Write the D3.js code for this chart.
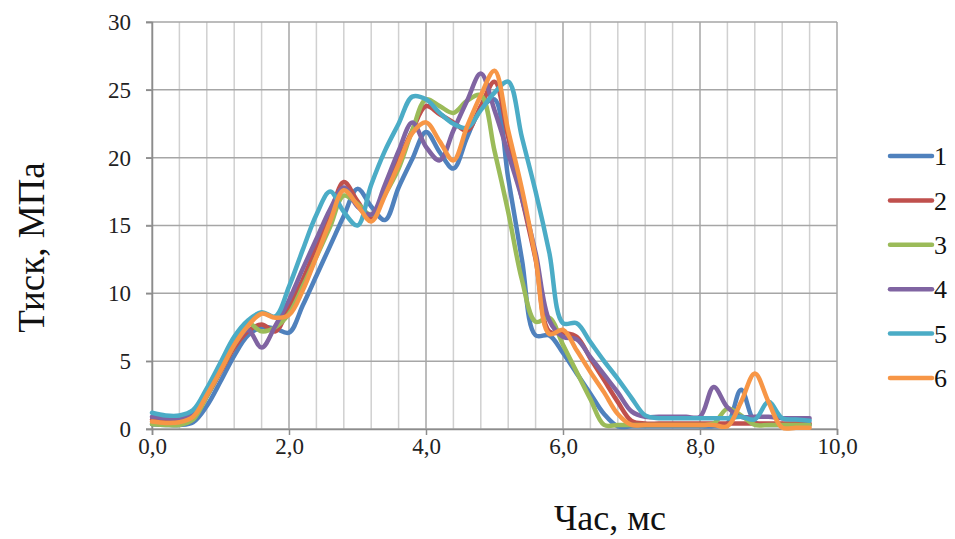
<!DOCTYPE html>
<html>
<head>
<meta charset="utf-8">
<script src="https://cdn.jsdelivr.net/npm/d3@7/dist/d3.min.js"></script>
<style>
  html, body { margin: 0; padding: 0; background: #fff; }
  svg { display: block; font-family: "Liberation Serif", "Times New Roman", serif; }
</style>
</head>
<body>
<svg id="chart" width="955" height="539"></svg>
<script>
// time, ms
const times = [0.0, 0.2, 0.4, 0.6, 0.8, 1.0, 1.2, 1.4, 1.6, 1.8,
  2.0, 2.2, 2.4, 2.6, 2.8, 3.0, 3.2, 3.4, 3.6, 3.8,
  4.0, 4.2, 4.4, 4.6, 4.8, 5.0, 5.2, 5.4, 5.6, 5.8,
  6.0, 6.2, 6.4, 6.6, 6.8, 7.0, 7.2, 7.4, 7.6, 7.8,
  8.0, 8.2, 8.4, 8.6, 8.8, 9.0, 9.2, 9.4, 9.6];

// pressure, MPa
const series1 = [0.35, 0.3, 0.3, 0.5, 1.7, 3.5, 5.4, 6.9, 7.5, 7.4,
  7.1, 9.1, 11.3, 13.5, 15.7, 17.7, 16.4, 15.4, 17.8, 19.9,
  21.9, 20.4, 19.2, 21.5, 23.6, 24.3, 18.5, 12.5, 6.9, 6.9,
  5.6, 4.1, 2.6, 1.1, 0.2, 0.2, 0.2, 0.2, 0.2, 0.2,
  0.2, 0.2, 0.4, 2.9, 0.5, 0.3, 0.3, 0.3, 0.3];
const series2 = [0.7, 0.6, 0.6, 0.9, 2.4, 4.2, 6.0, 7.2, 7.7, 7.2,
  9.0, 11.0, 13.4, 15.8, 18.2, 16.8, 15.5, 17.5, 19.8, 22.0,
  23.8, 23.2, 22.6, 22.0, 23.8, 25.6, 21.5, 17.0, 12.5, 7.2,
  7.1, 6.8, 5.2, 3.6, 2.0, 0.6, 0.4, 0.4, 0.4, 0.4,
  0.4, 0.4, 0.4, 0.4, 0.4, 0.4, 0.4, 0.4, 0.4];
const series3 = [0.35, 0.3, 0.3, 0.7, 2.4, 4.3, 6.2, 7.8, 7.2, 7.5,
  8.5, 10.5, 12.7, 14.9, 17.2, 16.6, 15.8, 17.3, 19.2, 22.0,
  24.3, 23.8, 23.3, 24.2, 24.6, 20.5, 16.0, 11.0, 7.9, 8.2,
  6.2, 4.2, 2.2, 0.3, 0.3, 0.3, 0.3, 0.3, 0.3, 0.3,
  0.3, 0.4, 1.5, 1.0, 0.3, 0.3, 0.3, 0.3, 0.3];
const series4 = [0.9, 0.8, 0.8, 1.1, 2.6, 4.4, 6.2, 7.3, 6.0, 7.6,
  9.5, 11.8, 14.0, 16.2, 17.8, 16.4, 15.8, 18.0, 20.5, 22.6,
  20.8, 19.8, 22.0, 24.2, 26.2, 23.5, 20.3, 17.0, 13.0, 8.0,
  6.8, 6.6, 5.3, 4.0, 2.7, 1.3, 0.9, 0.9, 0.9, 0.9,
  0.9, 3.1, 1.6, 0.9, 0.9, 0.9, 0.8, 0.8, 0.8];
const series5 = [1.2, 1.0, 1.0, 1.4, 3.0, 4.9, 6.8, 8.0, 8.6, 8.3,
  10.5, 13.2, 15.8, 17.5, 16.0, 15.0, 18.0, 20.5, 22.5, 24.5,
  24.3, 23.3, 22.5, 22.2, 23.5, 24.8, 25.6, 21.5, 17.5, 13.0,
  7.8, 7.8, 6.4, 5.0, 3.7, 2.3, 1.0, 0.8, 0.8, 0.8,
  0.8, 0.8, 0.8, 0.9, 0.7, 2.0, 0.8, 0.7, 0.6];
const series6 = [0.55, 0.45, 0.5, 0.9, 2.5, 4.3, 6.2, 7.6, 8.5, 8.2,
  8.4, 10.2, 12.7, 15.3, 17.6, 16.5, 15.3, 17.2, 19.5, 21.8,
  22.6, 21.2, 19.8, 22.3, 24.6, 26.4, 22.0, 17.7, 12.6, 7.0,
  7.3, 5.8, 4.2, 2.7, 1.1, 0.3, 0.3, 0.3, 0.3, 0.3,
  0.3, 0.3, 0.2, 2.0, 4.1, 2.0, 0.1, 0.1, 0.1];

const seriesNames = ["1", "2", "3", "4", "5", "6"];
const seriesValues = [series1, series2, series3, series4, series5, series6];
const seriesColors = ["#4f81bd", "#c0504d", "#9bbb59", "#8064a2", "#4bacc6", "#f79646"];

const xTicks = [0, 2, 4, 6, 8, 10];
const xMinor = [0, 0.4, 0.8, 1.2, 1.6, 2, 2.4, 2.8, 3.2, 3.6, 4, 4.4, 4.8, 5.2, 5.6,
  6, 6.4, 6.8, 7.2, 7.6, 8, 8.4, 8.8, 9.2, 9.6, 10];
const yTicks = [0, 5, 10, 15, 20, 25, 30];

const svg = d3.select("#chart");
const x = d3.scaleLinear().domain([0, 10]).range([152, 837]);
const y = d3.scaleLinear().domain([0, 30]).range([429, 22]);
const fmt = (v) => d3.format(".1f")(v).replace(".", ",");
const serif = "'Liberation Serif', 'Times New Roman', serif";

/* grid */
const grid = svg.append("g");
grid.selectAll("line.v")
  .data(xMinor)
  .join("line")
  .attr("x1", (d) => x(d)).attr("x2", (d) => x(d))
  .attr("y1", y(30)).attr("y2", y(0))
  .attr("stroke", (d) => (Math.abs(d % 2) < 1e-9 ? "#a6a6a6" : "#d0d0d0"))
  .attr("stroke-width", 1.5);
grid.selectAll("line.h")
  .data(yTicks)
  .join("line")
  .attr("x1", x(0) - 6).attr("x2", x(10))
  .attr("y1", (d) => y(d)).attr("y2", (d) => y(d))
  .attr("stroke", "#a6a6a6")
  .attr("stroke-width", 1.5);

/* axes */
const xAxis = svg.append("g")
  .attr("transform", `translate(0,${y(0)})`)
  .call(d3.axisBottom(x).tickValues(xTicks).tickFormat(fmt).tickSize(6).tickPadding(3));
const yAxis = svg.append("g")
  .attr("transform", `translate(${x(0)},0)`)
  .call(d3.axisLeft(y).tickValues(yTicks).tickSize(6).tickPadding(15));
[xAxis, yAxis].forEach((a) => {
  a.attr("font-family", serif).attr("font-size", 23);
  a.select(".domain").attr("stroke", "#8c8c8c").attr("stroke-width", 1.5);
  a.selectAll(".tick line").attr("stroke", "#8c8c8c").attr("stroke-width", 1.5);
  a.selectAll(".tick text").attr("fill", "#222");
});

/* lines */
const line = d3.line()
  .x((d) => x(d[0]))
  .y((d) => y(d[1]))
  .curve(d3.curveCatmullRom.alpha(0.5));

svg.append("g")
  .selectAll("path")
  .data(seriesValues)
  .join("path")
  .attr("d", (vals) => line(times.map((t, i) => [t, vals[i]])))
  .attr("fill", "none")
  .attr("stroke", (d, i) => seriesColors[i])
  .attr("stroke-width", 4.5)
  .attr("stroke-linejoin", "round")
  .attr("stroke-linecap", "round");

/* legend */
const legend = svg.append("g");
const lg = legend.selectAll("g")
  .data(seriesNames)
  .join("g")
  .attr("transform", (d, i) => `translate(890,${156 + i * 44.4})`);
lg.append("line")
  .attr("x1", 0).attr("x2", 42)
  .attr("stroke", (d, i) => seriesColors[i])
  .attr("stroke-width", 4.5)
  .attr("stroke-linecap", "round");
lg.append("text")
  .attr("x", 44)
  .attr("dy", "0.35em")
  .attr("font-size", 26)
  .attr("fill", "#111")
  .text((d) => d);

/* axis titles */
svg.append("text")
  .attr("transform", `translate(44,${y(15) + 22}) rotate(-90)`)
  .attr("text-anchor", "middle")
  .attr("font-size", 37)
  .attr("fill", "#111")
  .text("Тиск, МПа");
svg.append("text")
  .attr("x", 610)
  .attr("y", 530)
  .attr("text-anchor", "middle")
  .attr("font-size", 36)
  .attr("fill", "#111")
  .text("Час, мс");
</script>
</body>
</html>
